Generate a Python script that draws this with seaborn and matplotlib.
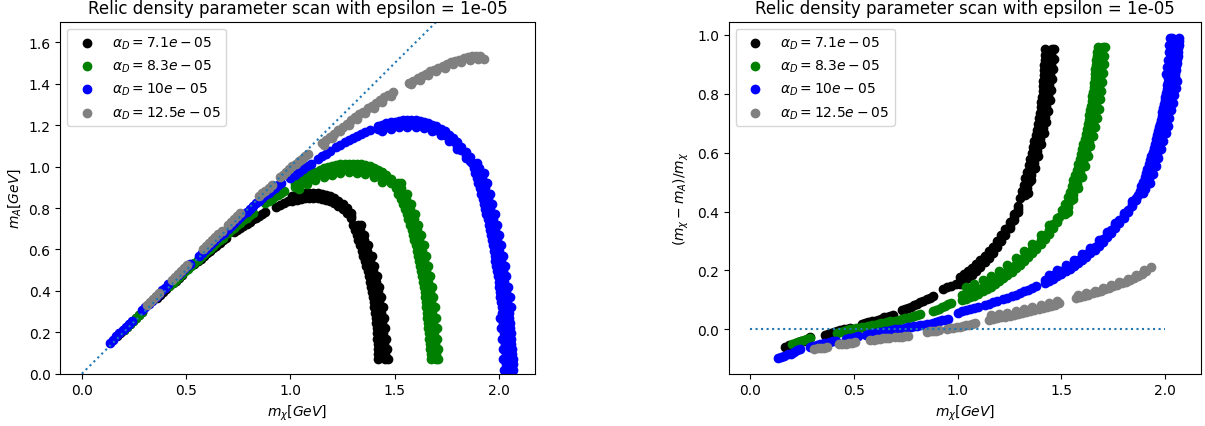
import matplotlib
matplotlib.use("Agg")
import matplotlib.pyplot as plt
import seaborn as sns
import pandas as pd

# ---------------- data ----------------
labels = [r"$\alpha_D = 7.1e-05$", r"$\alpha_D = 8.3e-05$",
          r"$\alpha_D = 10e-05$", r"$\alpha_D = 12.5e-05$"]
colors = ["black", "green", "blue", "grey"]

# alpha_D = 7.1e-05
mchi_71 = [0.170, 0.185, 0.200, 0.215, 0.230, 0.245, 0.260, 0.275, 0.290,
           0.360, 0.375, 0.390, 0.405, 0.420, 0.435, 0.450, 0.465, 0.480,
           0.540, 0.555, 0.570, 0.585, 0.600, 0.615, 0.630, 0.645, 0.660, 0.675, 0.690,
           0.730, 0.745, 0.760, 0.775, 0.790, 0.805, 0.820, 0.835, 0.850, 0.865, 0.880,
           0.93, 0.95, 0.97, 0.99, 1.01, 1.03, 1.05, 1.07, 1.09, 1.11, 1.13, 1.15, 1.17,
           1.19, 1.21, 1.23, 1.25, 1.27, 1.29,
           1.01, 1.03, 1.05, 1.07, 1.09, 1.11, 1.13, 1.15, 1.17, 1.19, 1.21, 1.23, 1.25, 1.27, 1.29,
           1.01, 1.03, 1.05, 1.07, 1.09, 1.11, 1.13, 1.15, 1.17, 1.19, 1.21, 1.23, 1.25, 1.27, 1.29,
           1.302, 1.310, 1.318, 1.326, 1.335, 1.343, 1.350, 1.357, 1.364, 1.370, 1.376, 1.382,
           1.387, 1.392, 1.396, 1.400, 1.403, 1.406, 1.409, 1.411, 1.413, 1.415, 1.417, 1.418,
           1.419, 1.420, 1.421,
           1.325, 1.334, 1.343, 1.352, 1.361, 1.369, 1.377, 1.384, 1.391, 1.397, 1.403, 1.409,
           1.414, 1.419, 1.423, 1.427, 1.431, 1.434, 1.437, 1.440, 1.442, 1.444, 1.446, 1.448,
           1.450, 1.452, 1.454,
           1.337, 1.355, 1.373, 1.389, 1.403, 1.415, 1.426, 1.435, 1.443, 1.449, 1.454,
           1.458, 1.462, 1.466]
mA_71 = [0.180, 0.195, 0.211, 0.226, 0.240, 0.255, 0.270, 0.284, 0.298,
         0.367, 0.381, 0.395, 0.409, 0.423, 0.436, 0.450, 0.464, 0.478,
         0.530, 0.543, 0.556, 0.569, 0.582, 0.595, 0.607, 0.619, 0.632, 0.644, 0.656,
         0.682, 0.693, 0.704, 0.715, 0.724, 0.735, 0.745, 0.754, 0.763, 0.772, 0.781,
         0.804, 0.815, 0.826, 0.836, 0.844, 0.850, 0.855, 0.859, 0.861, 0.862, 0.861, 0.858, 0.853,
         0.846, 0.836, 0.823, 0.806, 0.786, 0.763,
         0.856, 0.862, 0.867, 0.871, 0.873, 0.874, 0.873, 0.870, 0.865, 0.858, 0.848, 0.835, 0.818, 0.798, 0.775,
         0.832, 0.838, 0.843, 0.847, 0.849, 0.850, 0.849, 0.846, 0.841, 0.834, 0.824, 0.811, 0.794, 0.774, 0.751,
         0.720, 0.695, 0.670, 0.645, 0.620, 0.595, 0.570, 0.545, 0.520, 0.495, 0.470, 0.445,
         0.420, 0.395, 0.370, 0.345, 0.320, 0.295, 0.270, 0.245, 0.220, 0.195, 0.170, 0.145,
         0.120, 0.095, 0.070,
         0.720, 0.695, 0.670, 0.645, 0.620, 0.595, 0.570, 0.545, 0.520, 0.495, 0.470, 0.445,
         0.420, 0.395, 0.370, 0.345, 0.320, 0.295, 0.270, 0.245, 0.220, 0.195, 0.170, 0.145,
         0.120, 0.095, 0.070,
         0.720, 0.670, 0.620, 0.570, 0.520, 0.470, 0.420, 0.370, 0.320, 0.270, 0.220,
         0.170, 0.120, 0.070]

# alpha_D = 8.3e-05
mchi_83 = [0.200, 0.215, 0.230, 0.245, 0.260, 0.275, 0.290,
           0.420, 0.435, 0.450, 0.465, 0.480, 0.495, 0.510, 0.525, 0.540, 0.555, 0.570, 0.585,
           0.600, 0.615, 0.630, 0.645, 0.660, 0.675,
           0.700, 0.715, 0.730, 0.745, 0.760, 0.775, 0.790, 0.805, 0.820,
           0.880, 0.895, 0.910, 0.925, 0.940, 0.955, 0.970,
           1.02, 1.04, 1.06, 1.08, 1.10, 1.12, 1.14, 1.16, 1.18, 1.20, 1.22, 1.24,
           1.26, 1.28, 1.30, 1.32, 1.34, 1.36, 1.38, 1.40, 1.42, 1.44, 1.46, 1.48,
           1.02, 1.04, 1.06, 1.08, 1.10, 1.12, 1.14, 1.16, 1.18, 1.20, 1.22, 1.24,
           1.26, 1.28, 1.30, 1.32, 1.34, 1.36, 1.38, 1.40, 1.42, 1.44, 1.46, 1.48,
           1.04, 1.08, 1.12, 1.16, 1.20, 1.24, 1.28, 1.32, 1.36, 1.40, 1.44,
           1.490, 1.505, 1.518, 1.530, 1.540, 1.549, 1.558, 1.566, 1.574, 1.581, 1.588, 1.594,
           1.600, 1.606, 1.612, 1.617, 1.622, 1.627, 1.631, 1.635, 1.639, 1.643, 1.646, 1.649,
           1.652, 1.655, 1.657, 1.660, 1.662, 1.664, 1.666, 1.668, 1.670, 1.672, 1.676,
           1.515, 1.530, 1.543, 1.555, 1.565, 1.574, 1.583, 1.591, 1.599, 1.606, 1.613, 1.619,
           1.625, 1.631, 1.637, 1.642, 1.647, 1.652, 1.656, 1.660, 1.664, 1.668, 1.671, 1.674,
           1.677, 1.680, 1.682, 1.685, 1.687, 1.689, 1.691, 1.693, 1.695, 1.697, 1.700,
           1.530, 1.558, 1.580, 1.598, 1.614, 1.628, 1.640, 1.652, 1.662, 1.671, 1.679,
           1.686, 1.692, 1.697, 1.701, 1.704, 1.706, 1.708]
mA_83 = [0.210, 0.225, 0.240, 0.255, 0.269, 0.284, 0.299,
         0.425, 0.439, 0.453, 0.466, 0.480, 0.494, 0.508, 0.522, 0.536, 0.550, 0.564, 0.577,
         0.591, 0.604, 0.617, 0.631, 0.644, 0.657,
         0.679, 0.692, 0.704, 0.717, 0.730, 0.742, 0.754, 0.766, 0.777,
         0.825, 0.836, 0.846, 0.856, 0.865, 0.874, 0.883,
         0.918, 0.932, 0.945, 0.956, 0.967, 0.976, 0.985, 0.992, 0.998, 1.003, 1.008, 1.011,
         1.013, 1.015, 1.015, 1.014, 1.012, 1.008, 1.002, 0.995, 0.985, 0.973, 0.958, 0.940,
         0.902, 0.915, 0.928, 0.939, 0.950, 0.959, 0.968, 0.975, 0.980, 0.986, 0.990, 0.993,
         0.995, 0.997, 0.997, 0.996, 0.994, 0.990, 0.984, 0.976, 0.966, 0.953, 0.938, 0.920,
         0.890, 0.914, 0.934, 0.950, 0.961, 0.968, 0.972, 0.971, 0.965, 0.951, 0.928,
         0.920, 0.895, 0.870, 0.845, 0.820, 0.795, 0.770, 0.745, 0.720, 0.695, 0.670, 0.645,
         0.620, 0.595, 0.570, 0.545, 0.520, 0.495, 0.470, 0.445, 0.420, 0.395, 0.370, 0.345,
         0.320, 0.295, 0.270, 0.245, 0.220, 0.195, 0.170, 0.145, 0.120, 0.095, 0.070,
         0.920, 0.895, 0.870, 0.845, 0.820, 0.795, 0.770, 0.745, 0.720, 0.695, 0.670, 0.645,
         0.620, 0.595, 0.570, 0.545, 0.520, 0.495, 0.470, 0.445, 0.420, 0.395, 0.370, 0.345,
         0.320, 0.295, 0.270, 0.245, 0.220, 0.195, 0.170, 0.145, 0.120, 0.095, 0.070,
         0.920, 0.870, 0.820, 0.770, 0.720, 0.670, 0.620, 0.570, 0.520, 0.470, 0.420,
         0.370, 0.320, 0.270, 0.220, 0.170, 0.120, 0.070]

# alpha_D = 10e-05
mchi_10 = [0.135, 0.150, 0.165, 0.180, 0.195, 0.210, 0.225, 0.240,
           0.290, 0.305, 0.320, 0.335,
           0.355, 0.370, 0.385, 0.400, 0.415,
           0.460, 0.475, 0.490, 0.505, 0.520,
           0.560, 0.575, 0.590, 0.605, 0.620, 0.635, 0.650, 0.665, 0.680,
           0.700, 0.715, 0.730, 0.745, 0.760, 0.775, 0.790, 0.805, 0.820, 0.835, 0.850,
           0.865, 0.880, 0.895, 0.910, 0.925, 0.940, 0.955,
           1.00, 1.02, 1.04, 1.06, 1.08, 1.10,
           1.13, 1.15, 1.17, 1.19,
           1.22, 1.24, 1.26, 1.28, 1.30, 1.32, 1.34, 1.36, 1.38,
           1.42, 1.44, 1.46, 1.48, 1.50, 1.52, 1.54, 1.56, 1.58, 1.60, 1.62, 1.64,
           1.66, 1.68, 1.70, 1.72, 1.74, 1.76, 1.78, 1.80, 1.82, 1.84, 1.86,
           1.42, 1.44, 1.46, 1.48, 1.50, 1.52, 1.54, 1.56, 1.58, 1.60, 1.62, 1.64,
           1.66, 1.68, 1.70, 1.72, 1.74, 1.76, 1.78, 1.80, 1.82, 1.84, 1.86,
           1.44, 1.48, 1.52, 1.56, 1.60, 1.64, 1.68, 1.72, 1.76, 1.80, 1.84,
           1.870, 1.878, 1.886, 1.894, 1.901, 1.908, 1.915, 1.922, 1.928, 1.934, 1.940,
           1.946, 1.951, 1.956, 1.961, 1.966, 1.971, 1.975, 1.979, 1.983, 1.987, 1.991,
           1.995, 1.998, 2.001, 2.004, 2.007, 2.010, 2.013, 2.016, 2.018, 2.020, 2.022,
           2.024, 2.026, 2.028, 2.030, 2.032, 2.033, 2.034, 2.035,
           1.895, 1.903, 1.911, 1.919, 1.926, 1.933, 1.940, 1.947, 1.953, 1.959, 1.965,
           1.971, 1.977, 1.982, 1.987, 1.992, 1.997, 2.001, 2.005, 2.009, 2.013, 2.017,
           2.021, 2.025, 2.029, 2.033, 2.037, 2.040, 2.043, 2.046, 2.049, 2.052, 2.054,
           2.056, 2.058, 2.060, 2.062, 2.064, 2.066, 2.067, 2.068,
           1.926, 1.941, 1.955, 1.968, 1.980, 1.992, 2.002, 2.012, 2.020, 2.028, 2.036,
           2.044, 2.052, 2.058,
           2.006, 2.010, 2.014, 2.018, 2.021, 2.023]
mA_10 = [0.148, 0.164, 0.180, 0.195, 0.211, 0.226, 0.241, 0.256,
         0.307, 0.322, 0.337, 0.352,
         0.372, 0.387, 0.402, 0.416, 0.431,
         0.475, 0.489, 0.504, 0.518, 0.532,
         0.570, 0.584, 0.598, 0.612, 0.626, 0.640, 0.654, 0.668, 0.681,
         0.700, 0.714, 0.728, 0.741, 0.755, 0.769, 0.782, 0.795, 0.809, 0.822, 0.836,
         0.849, 0.862, 0.874, 0.885, 0.897, 0.909, 0.920,
         0.943, 0.958, 0.972, 0.987, 1.001, 1.015,
         1.036, 1.050, 1.062, 1.076,
         1.094, 1.106, 1.118, 1.129, 1.140, 1.150, 1.159, 1.168, 1.177,
         1.196, 1.203, 1.209, 1.214, 1.218, 1.221, 1.223, 1.224, 1.224, 1.223, 1.220, 1.216,
         1.210, 1.203, 1.194, 1.183, 1.170, 1.155, 1.138, 1.118, 1.096, 1.072, 1.045,
         1.180, 1.187, 1.193, 1.198, 1.202, 1.205, 1.207, 1.208, 1.208, 1.207, 1.204, 1.200,
         1.194, 1.187, 1.178, 1.167, 1.154, 1.139, 1.122, 1.102, 1.080, 1.056, 1.029,
         1.172, 1.183, 1.190, 1.193, 1.192, 1.185, 1.172, 1.152, 1.124, 1.087, 1.041,
         1.020, 0.995, 0.970, 0.945, 0.920, 0.895, 0.870, 0.845, 0.820, 0.795, 0.770,
         0.745, 0.720, 0.695, 0.670, 0.645, 0.620, 0.595, 0.570, 0.545, 0.520, 0.495,
         0.470, 0.445, 0.420, 0.395, 0.370, 0.345, 0.320, 0.295, 0.270, 0.245, 0.220,
         0.195, 0.170, 0.145, 0.120, 0.095, 0.070, 0.045, 0.020,
         1.020, 0.995, 0.970, 0.945, 0.920, 0.895, 0.870, 0.845, 0.820, 0.795, 0.770,
         0.745, 0.720, 0.695, 0.670, 0.645, 0.620, 0.595, 0.570, 0.545, 0.520, 0.495,
         0.470, 0.445, 0.420, 0.395, 0.370, 0.345, 0.320, 0.295, 0.270, 0.245, 0.220,
         0.195, 0.170, 0.145, 0.120, 0.095, 0.070, 0.045, 0.020,
         0.970, 0.920, 0.870, 0.820, 0.770, 0.720, 0.670, 0.620, 0.570, 0.520, 0.470,
         0.420, 0.370, 0.320,
         0.270, 0.220, 0.170, 0.120, 0.070, 0.020]

# alpha_D = 12.5e-05
mchi_125 = [0.310, 0.325, 0.340, 0.355, 0.370,
            0.430, 0.445, 0.460, 0.475, 0.490, 0.505,
            0.580, 0.595, 0.610, 0.625, 0.640, 0.655, 0.670,
            0.700, 0.715, 0.730, 0.745, 0.760,
            0.850, 0.865, 0.880, 0.895, 0.910,
            0.950, 0.965, 0.980, 0.995, 1.010, 1.025, 1.040, 1.055, 1.070, 1.085,
            1.15, 1.17, 1.19, 1.21, 1.23, 1.25, 1.27, 1.29, 1.31, 1.33, 1.35, 1.37,
            1.39, 1.41, 1.43, 1.45, 1.47, 1.49,
            1.16, 1.20, 1.24, 1.28, 1.32, 1.36, 1.40, 1.44, 1.48,
            1.57, 1.59, 1.61, 1.63, 1.65, 1.67, 1.69, 1.71, 1.73, 1.75, 1.77, 1.79,
            1.81, 1.83, 1.85, 1.87, 1.89, 1.91, 1.93,
            1.58, 1.62, 1.66, 1.70, 1.74, 1.78, 1.82, 1.86, 1.90]
mA_125 = [0.331, 0.346, 0.362, 0.377, 0.392,
          0.452, 0.467, 0.483, 0.497, 0.512, 0.527,
          0.601, 0.616, 0.630, 0.645, 0.659, 0.674, 0.689,
          0.718, 0.733, 0.748, 0.761, 0.776,
          0.857, 0.871, 0.884, 0.899, 0.912,
          0.948, 0.961, 0.974, 0.987, 1.001, 1.014, 1.026, 1.038, 1.051, 1.063,
          1.113, 1.129, 1.145, 1.160, 1.177, 1.193, 1.208, 1.223, 1.238, 1.253, 1.266, 1.281,
          1.294, 1.308, 1.321, 1.334, 1.347, 1.359,
          1.105, 1.137, 1.170, 1.200, 1.230, 1.258, 1.285, 1.312, 1.340,
          1.404, 1.415, 1.426, 1.438, 1.449, 1.460, 1.469, 1.477, 1.486, 1.494, 1.503, 1.511,
          1.517, 1.523, 1.528, 1.532, 1.533, 1.532, 1.521,
          1.397, 1.420, 1.442, 1.461, 1.478, 1.494, 1.507, 1.516, 1.520]

mchi_series = [mchi_71, mchi_83, mchi_10, mchi_125]
mA_series = [mA_71, mA_83, mA_10, mA_125]

# diagonal and zero reference lines
diag_x = [0.0, 2.0]
zero_x = [0.0, 2.0]
zero_y = [0.0, 0.0]

title = "Relic density parameter scan with epsilon = 1e-05"

# ---------------- figure ----------------
W, H = 1205, 427
fig = plt.figure(figsize=(W / 100, H / 100), dpi=100)
ax1 = fig.add_axes([60.3 / W, 52.3 / H, 474.4 / W, 352.0 / H])
ax2 = fig.add_axes([728.7 / W, 52.3 / H, 472.0 / W, 352.0 / H])

for mchi, mA, lab, col in zip(mchi_series, mA_series, labels, colors):
    df = pd.DataFrame({"mchi": mchi, "mA": mA})
    df["ratio"] = (df["mchi"] - df["mA"]) / df["mchi"]
    sns.scatterplot(data=df, x="mchi", y="mA", color=col, label=lab, ax=ax1,
                    s=36, edgecolor="face", linewidth=1.0, legend=False)
    sns.scatterplot(data=df, x="mchi", y="ratio", color=col, label=lab, ax=ax2,
                    s=36, edgecolor="face", linewidth=1.0, legend=False)

ax1.plot(diag_x, diag_x, linestyle=":", color="C0")
ax1.set_ylim(0, 1.7)
ax1.set_xlabel(r"$m_\chi[GeV]$")
ax1.set_ylabel(r"$m_A[GeV]$")
ax1.set_title(title)
ax1.legend(loc="upper left")

ax2.plot(zero_x, zero_y, linestyle=":", color="C0")
ax2.set_xlabel(r"$m_\chi[GeV]$")
ax2.set_ylabel(r"$(m_\chi-m_A)/m_\chi$")
ax2.set_title(title)
ax2.legend(loc="upper left")

fig.savefig("out.png", dpi=100)
